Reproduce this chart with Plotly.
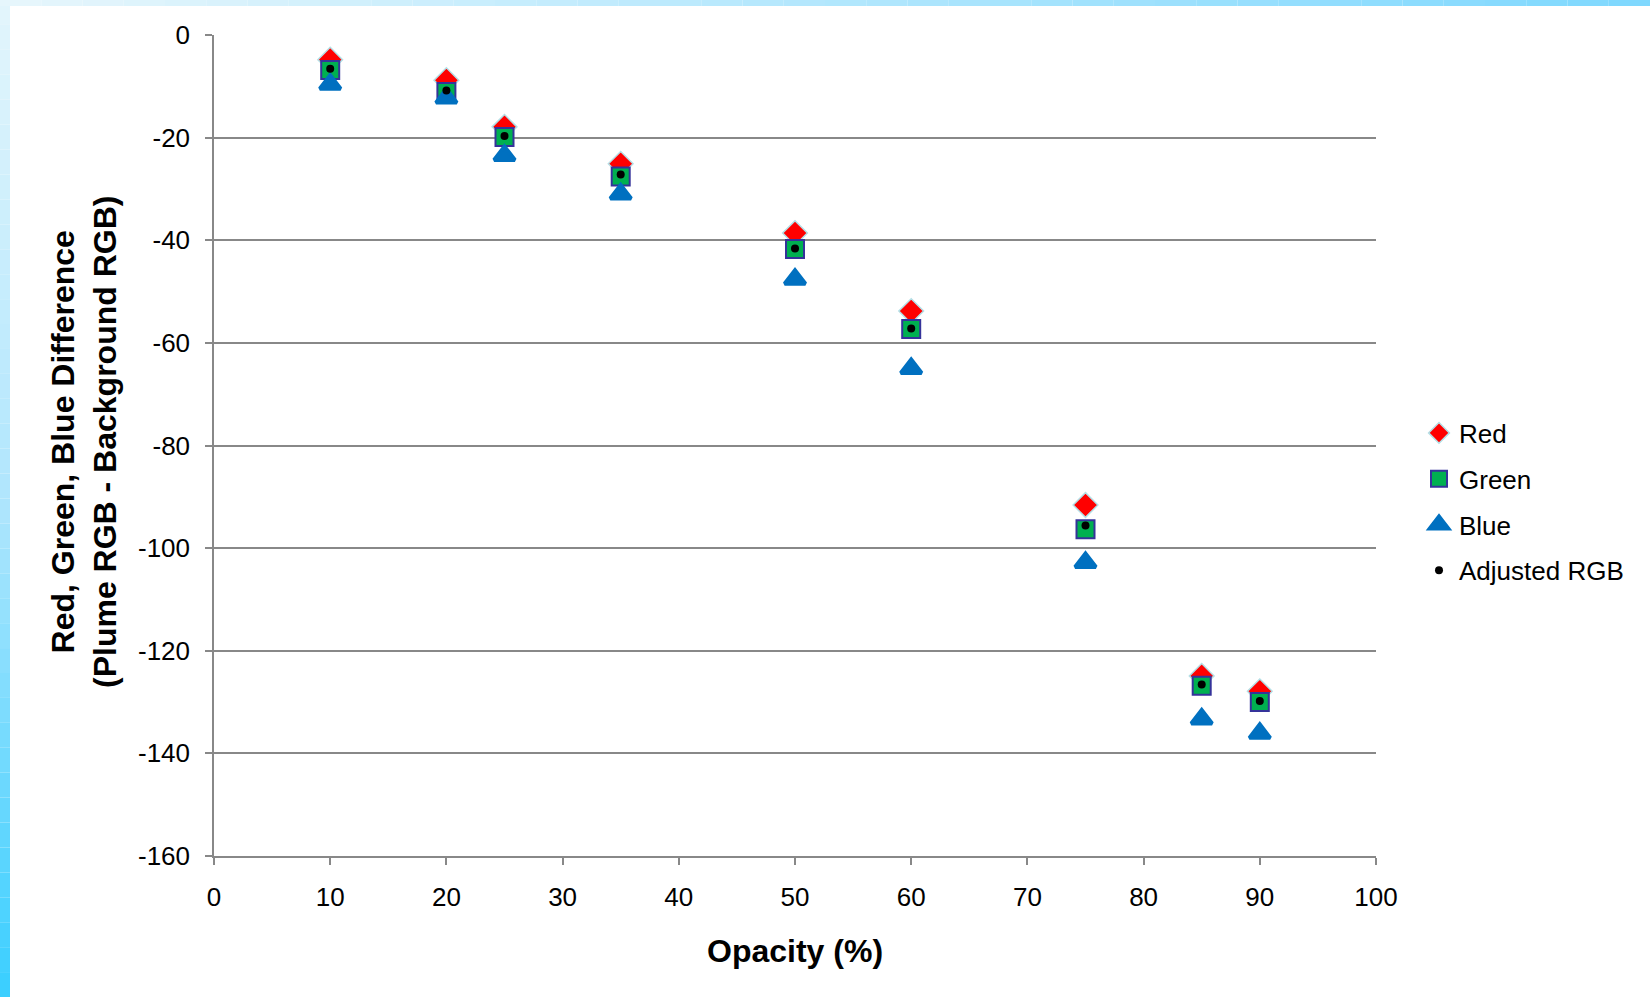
import plotly.graph_objects as go

# ---- data ----
opacity = [10, 20, 25, 35, 50, 60, 75, 85, 90]
red_diff = [-4.8, -8.8, -17.9, -25.1, -38.6, -53.8, -91.6, -124.9, -127.9]
green_diff = [-6.8, -11.1, -19.9, -27.6, -41.7, -57.3, -96.3, -126.8, -130.0]
blue_diff = [-9.6, -12.3, -23.5, -31.0, -47.6, -65.0, -102.8, -133.3, -136.1]
adjusted_rgb = [-6.6, -10.8, -19.7, -27.2, -41.6, -57.2, -95.6, -126.6, -129.8]

x_ticks = [0, 10, 20, 30, 40, 50, 60, 70, 80, 90, 100]
y_ticks = [0, -20, -40, -60, -80, -100, -120, -140, -160]

# ---- geometry (pixels) ----
W, H = 1650, 997
L, R, T, B = 214, 1376, 35, 856
PW, PH = R - L, B - T


def px_x(p):
    return (p - L) / PW


def px_y(p):
    return (B - p) / PH


def lerp_col(c1, c2, t):
    a = [int(c1[i:i + 2], 16) for i in (1, 3, 5)]
    b = [int(c2[i:i + 2], 16) for i in (1, 3, 5)]
    return "#%02x%02x%02x" % tuple(round(a[k] + (b[k] - a[k]) * t) for k in range(3))


FONT = "Liberation Sans, Arial, sans-serif"

fig = go.Figure()

fig.add_trace(go.Scatter(
    x=opacity, y=red_diff, mode="markers", name="Red",
    marker=dict(symbol="diamond", size=19, color="#ff0000",
                line=dict(color="#b4dfe6", width=1.5)),
))
fig.add_trace(go.Scatter(
    x=opacity, y=green_diff, mode="markers", name="Green",
    marker=dict(symbol="square", size=18, color="#00b050",
                line=dict(color="#35339a", width=2)),
))
fig.add_trace(go.Scatter(
    x=opacity, y=blue_diff, mode="markers", name="Blue",
    marker=dict(symbol="triangle-up", size=18, color="#0070c0",
                line=dict(color="#0070c0", width=4)),
))
fig.add_trace(go.Scatter(
    x=opacity, y=adjusted_rgb, mode="markers", name="Adjusted RGB",
    marker=dict(symbol="circle", size=8, color="#000000"),
))

# decorative gradient strips (left and top)
shapes = []
n = 40
for i in range(n):
    y0 = H * i / n
    y1 = H * (i + 1) / n
    t = i / (n - 1)
    if t < 0.5:
        col = lerp_col("#e2f5fc", "#b0e6fd", t / 0.5)
    else:
        col = lerp_col("#b0e6fd", "#3ccfff", (t - 0.5) / 0.5)
    shapes.append(dict(type="rect", xref="paper", yref="paper",
                       x0=px_x(0), x1=px_x(10), y0=px_y(y1), y1=px_y(y0),
                       fillcolor=col, line=dict(width=0), layer="below"))
for i in range(n):
    x0 = W * i / n
    x1 = W * (i + 1) / n
    t = i / (n - 1)
    col = lerp_col("#e6f6fc", "#7fd8fe", t)
    shapes.append(dict(type="rect", xref="paper", yref="paper",
                       x0=px_x(x0), x1=px_x(x1), y0=px_y(6), y1=px_y(0),
                       fillcolor=col, line=dict(width=0), layer="below"))

axis_col = "#888888"

fig.update_layout(
    width=W, height=H,
    margin=dict(l=L, r=W - R, t=T, b=H - B, autoexpand=False),
    paper_bgcolor="white", plot_bgcolor="white",
    font=dict(family=FONT, size=26, color="black"),
    showlegend=True,
    legend=dict(x=px_x(1419), y=px_y(502), xanchor="left", yanchor="middle",
                font=dict(family=FONT, size=26, color="black"),
                bgcolor="rgba(0,0,0,0)", itemwidth=30, tracegroupgap=9),
    shapes=shapes,
    xaxis=dict(range=[0, 100], tickvals=x_ticks, ticktext=[str(v) for v in x_ticks],
               showgrid=False, zeroline=False, showline=True, linecolor=axis_col,
               linewidth=1.5, ticks="outside", ticklen=7, tickcolor=axis_col,
               tickwidth=1.5, ticklabelstandoff=10,
               tickfont=dict(family=FONT, size=26, color="black")),
    yaxis=dict(range=[-160, 0], tickvals=y_ticks, ticktext=[str(v) for v in y_ticks],
               showgrid=True, gridcolor=axis_col, gridwidth=1.5, zeroline=False,
               showline=True, linecolor=axis_col, linewidth=1.5, ticks="outside",
               ticklen=7, tickcolor=axis_col, tickwidth=1.5, ticklabelstandoff=10,
               tickfont=dict(family=FONT, size=26, color="black")),
    annotations=[
        dict(text="<b>Opacity (%)</b>", xref="paper", yref="paper",
             x=0.5, y=px_y(951), xanchor="center", yanchor="middle",
             showarrow=False, font=dict(family=FONT, size=32, color="black")),
        dict(text="<b>Red, Green, Blue Difference<br>(Plume RGB - Background RGB)</b>",
             xref="paper", yref="paper", x=px_x(84), y=px_y(442),
             xanchor="center", yanchor="middle", textangle=-90,
             showarrow=False, font=dict(family=FONT, size=32, color="black")),
    ],
)

for i, tr in enumerate(fig.data):
    tr.legendgroup = "g%d" % i

fig.write_html("out.html",
               config={"displayModeBar": False},
               post_script="document.body.style.margin='0px';"
                           "document.body.style.overflow='hidden';")
